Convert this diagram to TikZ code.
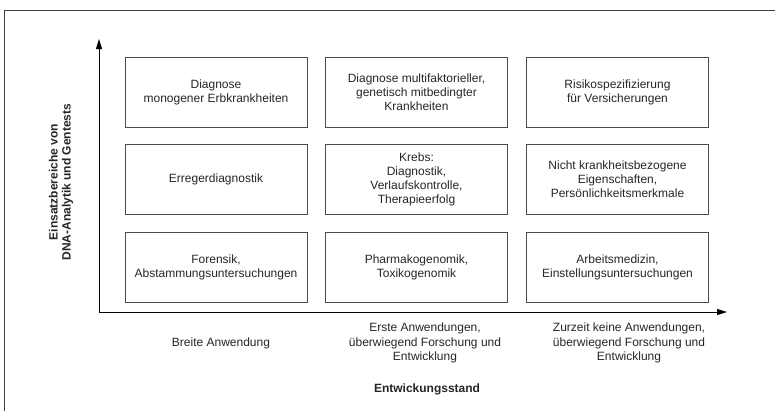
\documentclass[tikz,border=0pt]{standalone}
\usepackage{fontspec}
\setmainfont{Liberation Sans}
\usetikzlibrary{arrows.meta}
\begin{document}
\begin{tikzpicture}[x=1pt,y=-1pt,
  cell/.style={draw=black!70,line width=0.9pt,minimum width=182pt,minimum height=70pt,
    inner sep=0pt,align=center,font=\fontsize{12}{14}\selectfont,text=black!85},
  axlabel/.style={align=center,font=\fontsize{12}{14.5}\selectfont,text=black!85},
  axtitle/.style={align=center,font=\fontsize{12}{13}\selectfont\bfseries,text=black!85},
  axis/.style={line width=0.9pt,-{Triangle[length=10pt,width=6pt]}}]
\useasboundingbox (0,0) rectangle (775,410);
\fill[white] (0,0) rectangle (775,410);
\draw[black!75,line width=1pt] (780,10) -- (4,10) -- (4,415);
% axes
\coordinate (o) at (99,312);
\coordinate (ytop) at (99,39);
\coordinate (xend) at (727,312);
\draw[axis] (o) -- (ytop);
\draw[axis] (o) -- (xend);
% cells
\node[cell] (a1) at (216,92) {Diagnose\\monogener Erbkrankheiten};
\node[cell] (a2) at (416.5,92) {Diagnose multifaktorieller,\\genetisch mitbedingter\\Krankheiten};
\node[cell] (a3) at (617.5,92) {Risikospezifizierung\\für Versicherungen};
\node[cell] (b1) at (216,179) {Erregerdiagnostik};
\node[cell] (b2) at (416.5,179) {Krebs:\\Diagnostik,\\Verlaufskontrolle,\\Therapieerfolg};
\node[cell] (b3) at (617.5,179) {Nicht krankheitsbezogene\\Eigenschaften,\\Persönlichkeitsmerkmale};
\node[cell] (c1) at (216,267) {Forensik,\\Abstammungsuntersuchungen};
\node[cell] (c2) at (416.5,267) {Pharmakogenomik,\\Toxikogenomik};
\node[cell] (c3) at (617.5,267) {Arbeitsmedizin,\\Einstellungsuntersuchungen};
% x labels
\node[axlabel] (l1) at (221,343) {Breite Anwendung};
\node[axlabel] (l2) at (425,343) {Erste Anwendungen,\\überwiegend Forschung und\\Entwicklung};
\node[axlabel] (l3) at (629,343) {Zurzeit keine Anwendungen,\\überwiegend Forschung und\\Entwicklung};
\node[axtitle] (xt) at (427,389) {Entwickungsstand};
\node[axtitle,rotate=90] (yt) at (61,182) {Einsatzbereiche von\\DNA-Analytik und Gentests};
\end{tikzpicture}
\end{document}
